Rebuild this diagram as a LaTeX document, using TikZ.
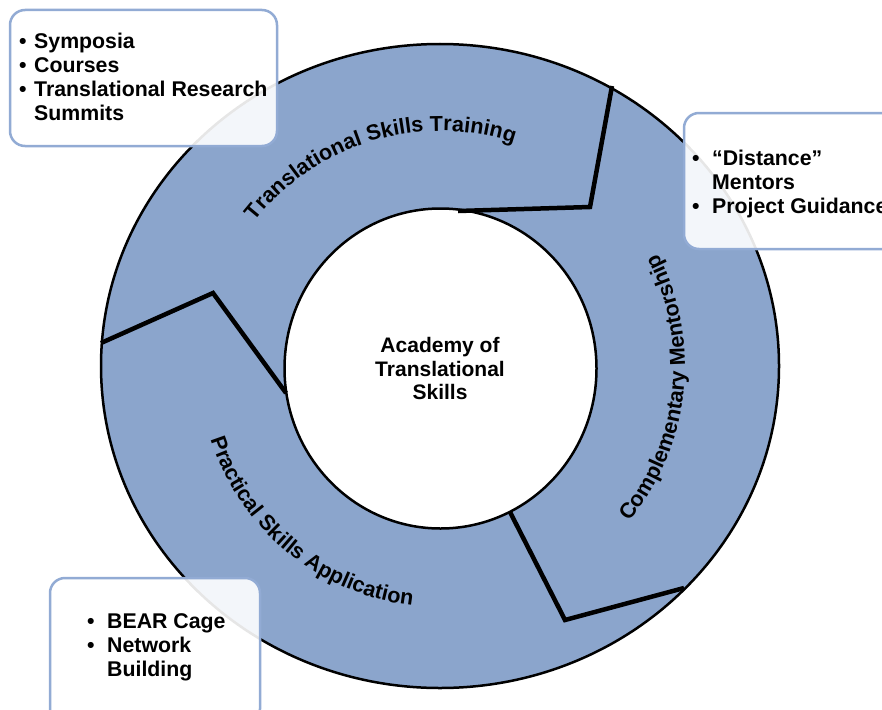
\documentclass[tikz,border=0pt]{standalone}
\usepackage{fontspec}
\setmainfont{Liberation Sans}
\usetikzlibrary{decorations.text}

\definecolor{ringfill}{RGB}{139,165,204}
\definecolor{boxedge}{RGB}{146,171,212}

\tikzset{
  ring/.style={fill=ringfill, draw=black, line width=2.5pt},
  hub/.style={fill=white, draw=black, line width=2.5pt},
  divider/.style={draw=black, line width=4.5pt, line join=miter},
  notebox/.style={draw=boxedge, line width=2.5pt, fill=white, fill opacity=0.9, rounded corners=15pt},
  notetext/.style={anchor=base west, inner sep=0pt, font=\fontsize{21.3}{24}\selectfont\bfseries},
  hubtext/.style={align=center, inner sep=0pt, font=\fontsize{21}{23.3}\selectfont\bfseries},
  ringtext/.style={decorate, decoration={text along path, text align=center,
      text={|\fontsize{21.6}{24}\selectfont\bfseries|#1}}}
}

\begin{document}
\begin{tikzpicture}[x=1pt,y=-1pt]
\useasboundingbox (0,0) rectangle (882,709);
\clip (0,0) rectangle (882,709);

% outer ring and central hub
\coordinate (c) at (440,366);
\path[ring] (c) ellipse [x radius=339pt, y radius=322pt];
\coordinate (h) at (440.5,368.5);
\path[hub] (h) ellipse [x radius=156pt, y radius=160pt];

% dividers between the three ring segments
\coordinate (d1a) at (612,86);  \coordinate (d1b) at (590,207); \coordinate (d1c) at (458,211);
\coordinate (d2a) at (101,343); \coordinate (d2b) at (213,293); \coordinate (d2c) at (286,393);
\coordinate (d3a) at (510,512); \coordinate (d3b) at (565,620); \coordinate (d3c) at (684,588);
\draw[divider] (d1a) -- (d1b) -- (d1c);
\draw[divider] (d2a) -- (d2b) -- (d2c);
\draw[divider] (d3a) -- (d3b) -- (d3c);

% hub label
\node[hubtext] (hublabel) at (440,368.5) {Academy of\\Translational\\Skills};

% segment labels along the ring
\path[ringtext={Translational Skills Training}]
  (c) ++(156.8:235pt) arc[start angle=156.8, end angle=56.8, radius=235pt];
\path[ringtext={Complementary Mentorship}]
  (c) ++(-56:245pt) arc[start angle=-56, end angle=44, radius=245pt];
\path[ringtext={Practical Skills Application}]
  (c) ++(180.6:241pt) arc[start angle=180.6, end angle=280.6, radius=241pt];

% note boxes
\path[notebox] (10,10) rectangle (277,146);
\node[notetext] (b1a) at (19,48.5) {•};
\node[notetext] (t1a) at (34,48.5) {Symposia};
\node[notetext] (b1b) at (19,72.5) {•};
\node[notetext] (t1b) at (34,72.5) {Courses};
\node[notetext] (b1c) at (19,96.5) {•};
\node[notetext] (t1c) at (34,96.5) {Translational Research};
\node[notetext] (t1d) at (34,120.5) {Summits};

\path[notebox] (684,113) rectangle (910,249);
\node[notetext] (b2a) at (692,165) {•};
\node[notetext] (t2a) at (712,165) {“Distance”};
\node[notetext] (t2b) at (712,189) {Mentors};
\node[notetext] (b2c) at (692,213) {•};
\node[notetext] (t2c) at (712,213) {Project Guidance};

\path[notebox] (50,578) rectangle (260,724);
\node[notetext] (b3a) at (87,628) {•};
\node[notetext] (t3a) at (107,628) {BEAR Cage};
\node[notetext] (b3b) at (87,652) {•};
\node[notetext] (t3b) at (107,652) {Network};
\node[notetext] (t3c) at (107,676) {Building};
\end{tikzpicture}
\end{document}
